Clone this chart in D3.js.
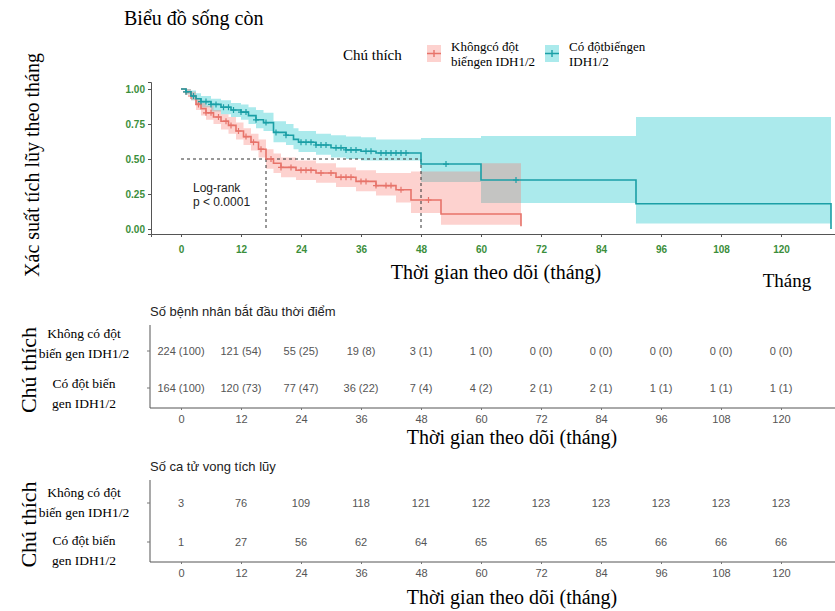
<!DOCTYPE html>
<html>
<head>
<meta charset="utf-8">
<script src="https://cdn.jsdelivr.net/npm/d3@7"></script>
<style>
  body { margin: 0; background: #fff; }
  .serif { font-family: "Liberation Serif", "DejaVu Serif", serif; }
  .sans { font-family: "Liberation Sans", Arial, sans-serif; }
</style>
</head>
<body>
<script>
// Kaplan-Meier steps, IDH1/2 mutated (teal)
const mutTime = [0, 1, 2, 3, 4, 6, 8, 10, 12, 13.5, 15, 16.5, 18.5, 21, 22.5, 23.5, 27, 30, 33, 36, 39, 48, 60, 91, 130];
const mutSurv = [1, 0.98, 0.95, 0.93, 0.91, 0.89, 0.87, 0.85, 0.835, 0.81, 0.78, 0.76, 0.69, 0.67, 0.64, 0.62, 0.6, 0.58, 0.565, 0.555, 0.543, 0.464, 0.35, 0.18, 0];
const mutLow = [1, 0.96, 0.92, 0.89, 0.87, 0.84, 0.82, 0.8, 0.78, 0.75, 0.72, 0.7, 0.62, 0.6, 0.57, 0.55, 0.53, 0.51, 0.5, 0.49, 0.49, 0.336, 0.186, 0.04, 0.04];
const mutUp = [1, 1, 0.99, 0.97, 0.95, 0.93, 0.92, 0.9, 0.89, 0.87, 0.85, 0.83, 0.77, 0.75, 0.72, 0.7, 0.68, 0.67, 0.66, 0.655, 0.64, 0.65, 0.664, 0.8, 0.8];
const mutCensor = [1, 2.5, 4, 5, 6, 7, 8.5, 9.5, 10.5, 12, 13, 15, 17, 19, 21, 24, 25, 26, 27, 28, 29, 31, 32, 33, 34, 35, 37, 38, 40, 41, 42, 43, 44, 45, 53, 67];

// Kaplan-Meier steps, no IDH1/2 mutation (red)
const wtTime = [0, 1, 2, 3, 4, 5, 6.5, 8, 9.5, 11, 12.5, 14, 15.5, 17, 18.5, 20, 23, 27, 31, 35, 39, 43, 46, 52, 60, 68];
const wtSurv = [1, 0.98, 0.95, 0.89, 0.86, 0.83, 0.8, 0.77, 0.74, 0.7, 0.66, 0.62, 0.57, 0.5, 0.47, 0.44, 0.42, 0.4, 0.37, 0.34, 0.31, 0.28, 0.207, 0.107, 0.107, 0.02];
const wtLow = [1, 0.96, 0.92, 0.85, 0.81, 0.78, 0.75, 0.71, 0.68, 0.64, 0.6, 0.56, 0.51, 0.43, 0.4, 0.37, 0.35, 0.33, 0.3, 0.27, 0.24, 0.19, 0.114, 0.03, 0.03, 0.03];
const wtUp = [1, 1, 0.98, 0.93, 0.9, 0.88, 0.85, 0.82, 0.8, 0.76, 0.72, 0.68, 0.64, 0.57, 0.54, 0.51, 0.49, 0.47, 0.44, 0.42, 0.4, 0.4, 0.41, 0.41, 0.47, 0.47];
const wtCensor = [1, 2, 3.5, 5, 6, 7.5, 9, 10, 11.5, 13, 14.5, 16, 18, 20, 22, 24, 25, 26, 28, 30, 32, 33, 34, 36, 37, 39, 41, 42, 44, 49.5];

const medians = [17, 48];

// risk tables
const tableTimes = [0, 12, 24, 36, 48, 60, 72, 84, 96, 108, 120];
const riskWt = [224, 121, 55, 19, 3, 1, 0, 0, 0, 0, 0];
const riskWtPct = [100, 54, 25, 8, 1, 0, 0, 0, 0, 0, 0];
const riskMut = [164, 120, 77, 36, 7, 4, 2, 2, 1, 1, 1];
const riskMutPct = [100, 73, 47, 22, 4, 2, 1, 1, 1, 1, 1];
const deathsWt = [3, 76, 109, 118, 121, 122, 123, 123, 123, 123, 123];
const deathsMut = [1, 27, 56, 62, 64, 65, 65, 65, 66, 66, 66];

const yTicks = [0, 0.25, 0.5, 0.75, 1];

const W = 835, H = 611;
const tealLine = "#1b9fa6", tealFill = "#00bfc4";
const redLine = "#e7736a", redFill = "#f8766d";
const green = "#3b8e3b";
const grayTxt = "#555";

const svg = d3.select("body").append("svg")
  .attr("width", W).attr("height", H)
  .attr("viewBox", [0, 0, W, H]);

const x = d3.scaleLinear().domain([-6, 130.8]).range([151, 835]);
const y = d3.scaleLinear().domain([-0.0357, 1.05]).range([234, 82]);

// step lookup for censor marks
function survAt(times, surv, t) {
  let v = surv[0];
  for (let i = 0; i < times.length; i++) if (times[i] <= t) v = surv[i];
  return v;
}
function rows(times, s, lo, up) {
  return times.map((t, i) => ({ t: t, s: s[i], lo: lo[i], up: up[i] }));
}
const groups = [
  { data: rows(wtTime, wtSurv, wtLow, wtUp), censor: wtCensor, line: redLine, fill: redFill, times: wtTime, surv: wtSurv },
  { data: rows(mutTime, mutSurv, mutLow, mutUp), censor: mutCensor, line: tealLine, fill: tealFill, times: mutTime, surv: mutSurv }
];

const plot = svg.append("g");

// confidence bands
const band = d3.area().curve(d3.curveStepAfter)
  .x(d => x(d.t)).y0(d => y(d.lo)).y1(d => y(d.up));
groups.slice().reverse().forEach(g => {
  plot.append("path").attr("d", band(g.data))
    .attr("fill", g.fill).attr("opacity", 0.33);
});

// median lines
plot.append("path")
  .attr("d", `M${x(0)},${y(0.5)}H${x(medians[1])}`)
  .attr("stroke", "#333").attr("stroke-dasharray", "3,3").attr("fill", "none");
medians.forEach(m => {
  plot.append("path")
    .attr("d", `M${x(m)},${y(0.5)}V${y(0)}`)
    .attr("stroke", "#333").attr("stroke-dasharray", "3,3").attr("fill", "none");
});

// survival lines
const stepLine = d3.line().curve(d3.curveStepAfter).x(d => x(d.t)).y(d => y(d.s));
groups.forEach(g => {
  plot.append("path").attr("d", stepLine(g.data))
    .attr("fill", "none").attr("stroke", g.line).attr("stroke-width", 1.6);
  g.censor.forEach(c => {
    const cx = x(c), cy = y(survAt(g.times, g.surv, c));
    plot.append("path")
      .attr("d", `M${cx - 3},${cy}H${cx + 3}M${cx},${cy - 3}V${cy + 3}`)
      .attr("stroke", g.line).attr("stroke-width", 1.2);
  });
});

// axes
const xAxis = plot.append("g").attr("transform", "translate(0,234)")
  .call(d3.axisBottom(x).tickValues(tableTimes).tickSizeOuter(0).tickSize(3));
const yAxis = plot.append("g").attr("transform", "translate(151,0)")
  .call(d3.axisLeft(y).tickValues(yTicks).tickFormat(d3.format(".2f")).tickSizeOuter(0).tickSize(3));
[xAxis, yAxis].forEach(a => {
  a.select(".domain").attr("stroke", "#555");
  a.selectAll(".tick line").attr("stroke", "#555");
  a.selectAll("text").attr("fill", green).attr("font-weight", "bold")
    .attr("font-size", 10).attr("font-family", "Liberation Sans, Arial, sans-serif");
});
xAxis.selectAll("text").attr("dy", "1.3em");

plot.append("text").attr("class", "sans").attr("x", 193).attr("y", 192)
  .attr("font-size", 12).attr("fill", "#222").text("Log-rank");
plot.append("text").attr("class", "sans").attr("x", 193).attr("y", 206)
  .attr("font-size", 12).attr("fill", "#222").text("p < 0.0001");

// titles
svg.append("text").attr("class", "serif").attr("x", 124).attr("y", 25)
  .attr("font-size", 20).text("Biểu đồ sống còn");
svg.append("text").attr("class", "serif")
  .attr("transform", "translate(39,165) rotate(-90)")
  .attr("text-anchor", "middle").attr("font-size", 20)
  .text("Xác suất tích lũy theo tháng");
svg.append("text").attr("class", "serif").attr("x", 496).attr("y", 279)
  .attr("text-anchor", "middle").attr("font-size", 20).text("Thời gian theo dõi (tháng)");
svg.append("text").attr("class", "serif").attr("x", 787).attr("y", 287)
  .attr("text-anchor", "middle").attr("font-size", 19).text("Tháng");

// legend
svg.append("text").attr("class", "serif").attr("x", 343).attr("y", 60)
  .attr("font-size", 15).text("Chú thích");
const legendItems = [
  { x: 427, color: redLine, fill: redFill, lines: ["Khôngcó đột", "biếngen IDH1/2"] },
  { x: 545, color: tealLine, fill: tealFill, lines: ["Có độtbiếngen", "IDH1/2"] }
];
legendItems.forEach(it => {
  svg.append("rect").attr("x", it.x).attr("y", 45).attr("width", 14).attr("height", 17)
    .attr("fill", it.fill).attr("opacity", 0.33);
  svg.append("path")
    .attr("d", `M${it.x},${53.5}H${it.x + 14}M${it.x + 7},${50}V${57}`)
    .attr("stroke", it.color).attr("stroke-width", 1.4);
  it.lines.forEach((l, i) => {
    svg.append("text").attr("class", "serif").attr("x", it.x + 24).attr("y", 51 + i * 15)
      .attr("font-size", 13).text(l);
  });
});

// risk tables
function riskTable(top, axisY, title, rowY, labelY, labels, values, titleY) {
  const g = svg.append("g");
  g.append("text").attr("class", "sans").attr("x", 150).attr("y", top)
    .attr("font-size", 13).attr("fill", "#222").text(title);
  g.append("path").attr("d", `M150,${top + 9}V${axisY}H835`)
    .attr("stroke", "#555").attr("fill", "none");
  const ax = g.append("g").attr("transform", `translate(0,${axisY})`)
    .call(d3.axisBottom(x).tickValues(tableTimes).tickSize(2).tickSizeOuter(0));
  ax.select(".domain").remove();
  ax.selectAll(".tick line").attr("stroke", "#777");
  ax.selectAll("text").attr("fill", grayTxt).attr("font-size", 11)
    .attr("font-family", "Liberation Sans, Arial, sans-serif").attr("dy", "0.9em");
  rowY.forEach((ry, r) => {
    g.append("path").attr("d", `M147,${ry}H150`).attr("stroke", "#777");
    tableTimes.forEach((t, i) => {
      g.append("text").attr("class", "sans").attr("x", x(t)).attr("y", ry + 4)
        .attr("text-anchor", "middle").attr("font-size", 11).attr("fill", grayTxt)
        .text(values[r][i]);
    });
    labels[r].forEach((l, j) => {
      g.append("text").attr("class", "serif").attr("x", 84).attr("y", labelY[r] + j * 20)
        .attr("text-anchor", "middle").attr("font-size", 13.5).text(l);
    });
  });
  svg.append("text").attr("class", "serif").attr("x", 512).attr("y", titleY)
    .attr("text-anchor", "middle").attr("font-size", 20).text("Thời gian theo dõi (tháng)");
  svg.append("text").attr("class", "serif")
    .attr("transform", `translate(36,${(top + axisY) / 2 + 8}) rotate(-90)`)
    .attr("text-anchor", "middle").attr("font-size", 22).text("Chú thích");
}
const rowLabels = [["Không có đột", "biến gen IDH1/2"], ["Có đột biến", "gen IDH1/2"]];
riskTable(316, 408, "Số bệnh nhân bắt đầu thời điểm", [351, 388], [338, 388], rowLabels,
  [riskWt.map((v, i) => `${v} (${riskWtPct[i]})`), riskMut.map((v, i) => `${v} (${riskMutPct[i]})`)], 444);
riskTable(471, 562, "Số ca tử vong tích lũy", [503, 542], [497, 545], rowLabels,
  [deathsWt, deathsMut], 604);
</script>
</body>
</html>
